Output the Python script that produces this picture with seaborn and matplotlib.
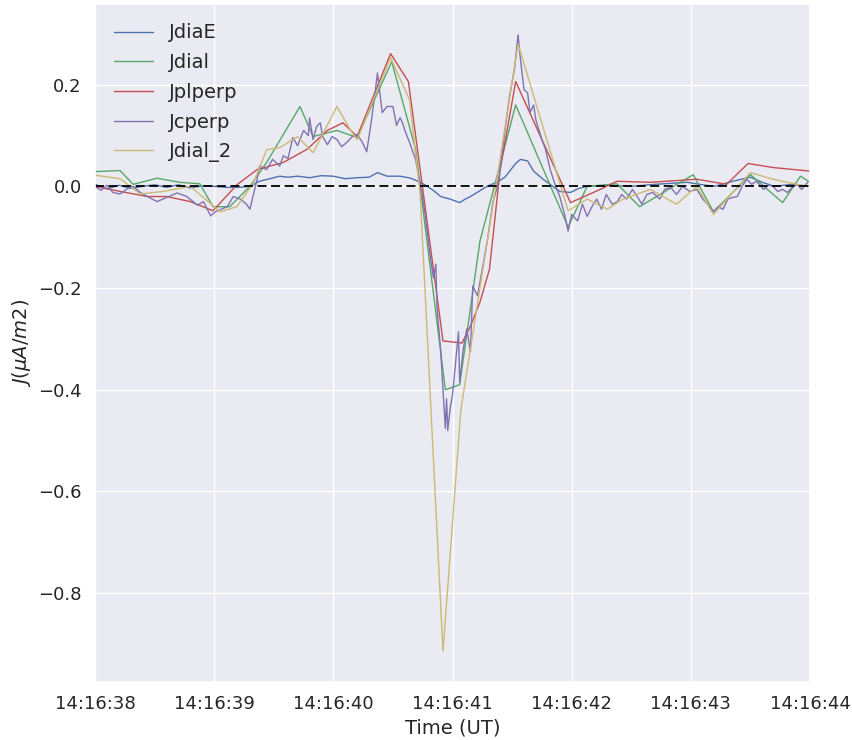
import numpy as np
import pandas as pd
import matplotlib
matplotlib.use("Agg")
import matplotlib.pyplot as plt
import matplotlib.dates as mdates
import seaborn as sns

# times are seconds after 14:16:00 UT
t_jdiae = [38.00, 38.10, 38.20, 38.30, 38.40, 38.50, 38.60, 38.70, 38.80, 38.90, 39.00, 39.10,
           39.20, 39.30, 39.38, 39.45, 39.55, 39.62, 39.70, 39.80, 39.90, 40.00, 40.10, 40.20,
           40.30, 40.37, 40.45, 40.56, 40.65, 40.73, 40.79, 40.85, 40.90, 40.98, 41.06, 41.10,
           41.15, 41.22, 41.29, 41.37, 41.44, 41.48, 41.53, 41.57, 41.63, 41.68, 41.76, 41.83,
           41.90, 41.99, 42.06, 42.13, 42.30, 42.50, 42.70, 42.97, 43.10, 43.20, 43.35, 43.50,
           43.60, 43.70, 43.85, 44.00]
jdiae = [0.004, -0.005, 0.002, -0.004, 0.000, 0.003, -0.002, 0.003, -0.003, 0.001, 0.000, -0.002,
         -0.002, 0.000, 0.010, 0.014, 0.020, 0.018, 0.020, 0.017, 0.021, 0.020, 0.015, 0.017,
         0.018, 0.027, 0.020, 0.020, 0.016, 0.008, 0.000, -0.010, -0.020, -0.025, -0.032, -0.026,
         -0.020, -0.010, 0.000, 0.008, 0.018, 0.030, 0.045, 0.053, 0.050, 0.030, 0.014, 0.002,
         -0.010, -0.012, -0.004, 0.000, 0.002, 0.000, 0.004, 0.008, 0.003, 0.000, 0.010, 0.018,
         0.008, 0.000, 0.004, 0.000]

t_jdial = [38.00, 38.21, 38.32, 38.52, 38.71, 38.88, 38.99, 39.13, 39.30, 39.44, 39.72, 39.83,
           40.03, 40.20, 40.49, 40.69, 40.94, 41.06, 41.23, 41.53, 41.97, 42.13, 42.38, 42.57,
           43.02, 43.19, 43.50, 43.77, 43.92, 44.00]
jdial = [0.029, 0.031, 0.004, 0.016, 0.008, 0.005, -0.040, -0.040, 0.000, 0.047, 0.157, 0.098,
         0.110, 0.096, 0.245, 0.073, -0.400, -0.390, -0.108, 0.160, -0.080, 0.000, 0.005, -0.040,
         0.023, -0.050, 0.023, -0.032, 0.020, 0.008]

t_jplperp = [38.00, 38.21, 38.44, 38.60, 38.80, 38.99, 39.19, 39.36, 39.58, 39.78, 39.95, 40.08,
             40.20, 40.48, 40.63, 40.92, 41.08, 41.15, 41.23, 41.31, 41.40, 41.53, 41.99, 42.24,
             42.38, 42.66, 43.05, 43.30, 43.48, 43.69, 44.00]
jplperp = [0.000, -0.010, -0.020, -0.020, -0.030, -0.048, 0.003, 0.033, 0.047, 0.073, 0.110, 0.125,
           0.098, 0.261, 0.206, -0.304, -0.308, -0.275, -0.228, -0.163, 0.033, 0.206, -0.032, -0.006,
           0.010, 0.008, 0.014, 0.004, 0.045, 0.037, 0.030]

t_jcperp = [38.00, 38.05, 38.10, 38.15, 38.21, 38.27, 38.32, 38.38, 38.44, 38.52, 38.60, 38.69,
            38.77, 38.86, 38.91, 38.97, 39.01, 39.11, 39.16, 39.22, 39.27, 39.30, 39.36, 39.38,
            39.44, 39.49, 39.55, 39.58, 39.62, 39.66, 39.70, 39.75, 39.79, 39.80, 39.83, 39.86,
            39.89, 39.91, 39.95, 39.99, 40.03, 40.07, 40.11, 40.16, 40.20, 40.24, 40.28, 40.32,
            40.35, 40.37, 40.41, 40.45, 40.50, 40.53, 40.56, 40.58, 40.60, 40.64, 40.69, 40.73,
            40.77, 40.81, 40.84, 40.86, 40.87, 40.90, 40.92, 40.94, 40.95, 40.96, 40.98, 41.00,
            41.02, 41.05, 41.06, 41.09, 41.12, 41.15, 41.17, 41.21, 41.25, 41.29, 41.34, 41.37,
            41.40, 41.44, 41.48, 41.52, 41.55, 41.57, 41.60, 41.63, 41.65, 41.68, 41.70, 41.75,
            41.78, 41.82, 41.86, 41.90, 41.94, 41.97, 42.00, 42.05, 42.09, 42.13, 42.17, 42.21,
            42.25, 42.29, 42.34, 42.38, 42.42, 42.46, 42.51, 42.55, 42.59, 42.63, 42.68, 42.74,
            42.78, 42.83, 42.88, 42.93, 42.99, 43.05, 43.10, 43.14, 43.19, 43.23, 43.27, 43.31,
            43.35, 43.39, 43.43, 43.47, 43.51, 43.55, 43.61, 43.65, 43.69, 43.73, 43.77, 43.81,
            43.85, 43.89, 43.93, 43.98]
jcperp = [0.000, -0.008, 0.002, -0.012, -0.015, -0.005, 0.000, -0.012, -0.020, -0.030, -0.022, -0.013,
          -0.020, -0.037, -0.030, -0.058, -0.050, -0.040, -0.020, -0.025, -0.035, -0.045, 0.014, 0.040,
          0.033, 0.053, 0.040, 0.060, 0.055, 0.096, 0.080, 0.110, 0.100, 0.135, 0.092, 0.118,
          0.125, 0.098, 0.082, 0.098, 0.092, 0.078, 0.086, 0.098, 0.102, 0.088, 0.068, 0.130,
          0.184, 0.223, 0.145, 0.157, 0.157, 0.120, 0.135, 0.125, 0.110, 0.086, 0.053, 0.004,
          -0.055, -0.133, -0.180, -0.153, -0.240, -0.320, -0.400, -0.476, -0.418, -0.480, -0.437, -0.410,
          -0.360, -0.286, -0.385, -0.320, -0.280, -0.325, -0.196, -0.215, -0.163, -0.110, -0.030, -0.006,
          0.033, 0.110, 0.180, 0.230, 0.298, 0.250, 0.190, 0.184, 0.145, 0.160, 0.130, 0.092,
          0.073, 0.033, 0.004, -0.020, -0.055, -0.088, -0.055, -0.068, -0.035, -0.059, -0.040, -0.025,
          -0.045, -0.016, -0.035, -0.031, -0.016, -0.025, -0.006, -0.020, -0.035, -0.016, -0.012, -0.025,
          -0.006, -0.002, -0.016, 0.000, -0.010, -0.006, -0.025, -0.035, -0.050, -0.040, -0.045, -0.025,
          -0.022, -0.020, 0.000, 0.014, 0.004, 0.010, -0.006, 0.002, 0.000, -0.010, -0.006, -0.012,
          -0.002, 0.004, -0.006, 0.008]

t_jdial2 = [38.00, 38.21, 38.38, 38.57, 38.80, 39.05, 39.19, 39.33, 39.44, 39.55, 39.70, 39.83,
            40.03, 40.14, 40.20, 40.48, 40.64, 40.73, 40.92, 41.07, 41.55, 41.97, 42.13, 42.30,
            42.43, 42.66, 42.88, 43.05, 43.19, 43.50, 43.69, 43.97, 44.00]
jdial2 = [0.022, 0.015, -0.015, -0.010, 0.000, -0.050, -0.040, 0.007, 0.072, 0.076, 0.098, 0.066,
          0.157, 0.112, 0.092, 0.253, 0.170, -0.020, -0.914, -0.440, 0.280, -0.048, -0.025, -0.045,
          -0.025, -0.006, -0.035, 0.000, -0.055, 0.027, 0.014, 0.000, 0.000]

series_names = ["JdiaE", "Jdial", "Jplperp", "Jcperp", "Jdial_2"]
series_colors = ["#4C72B0", "#55A868", "#C44E52", "#8172B2", "#CCB974"]

t0 = pd.Timestamp("2016-01-01 14:16:00")


def to_time(secs):
    return t0 + pd.to_timedelta(np.array(secs), unit="s")


sns.set_theme(style="darkgrid")
plt.rcParams["font.family"] = ["DejaVu Sans"]

fig = plt.figure(figsize=(8.53, 7.40), dpi=100)
ax = fig.add_axes([0.1114, 0.0784, 0.8382, 0.9162])

all_series = [(t_jdiae, jdiae), (t_jdial, jdial), (t_jplperp, jplperp),
              (t_jcperp, jcperp), (t_jdial2, jdial2)]
for (tt, vv), name, col in zip(all_series, series_names, series_colors):
    df = pd.DataFrame({"time": to_time(tt), "J": vv})
    sns.lineplot(data=df, x="time", y="J", ax=ax, color=col, linewidth=1.0,
                 label=name, estimator=None, sort=False)

ax.axhline(0, color="black", linestyle=(0, (5, 2.5)), linewidth=1.3)

ax.set_xlim(to_time([38.0])[0], to_time([44.0])[0])
ax.xaxis.set_major_locator(mdates.SecondLocator())
ax.xaxis.set_major_formatter(mdates.DateFormatter("%H:%M:%S"))
ax.set_yticks([-0.8, -0.6, -0.4, -0.2, 0.0, 0.2])
ax.tick_params(labelsize=13)

ax.set_xlabel("Time (UT)", fontsize=14)
ax.set_ylabel(r"$J(\mu A/m2)$", fontsize=14)

ax.legend(loc="upper left", frameon=False, fontsize=14, borderaxespad=0.6,
          labelspacing=0.55)

fig.savefig("out.png", dpi=100)
